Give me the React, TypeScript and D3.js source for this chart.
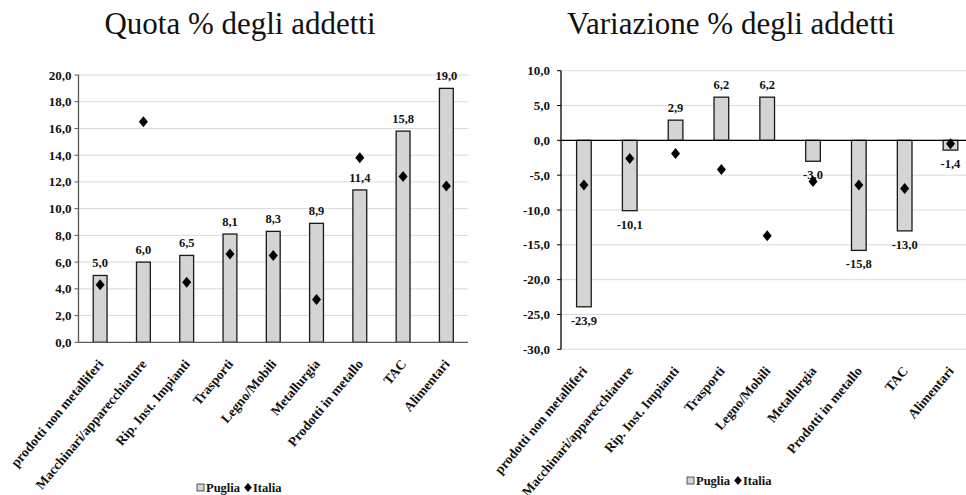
import * as d3 from 'd3'

const categories = [
  'prodotti non metalliferi',
  'Macchinari/apparecchiature',
  'Rip. Inst. Impianti',
  'Trasporti',
  'Legno/Mobili',
  'Metallurgia',
  'Prodotti in metallo',
  'TAC',
  'Alimentari',
]

const quotaPuglia = [5.0, 6.0, 6.5, 8.1, 8.3, 8.9, 11.4, 15.8, 19.0]
const quotaItalia = [4.3, 16.5, 4.5, 6.6, 6.5, 3.2, 13.8, 12.4, 11.7]
const quotaTicks = [0, 2, 4, 6, 8, 10, 12, 14, 16, 18, 20]

const varPuglia = [-23.9, -10.1, 2.9, 6.2, 6.2, -3.0, -15.8, -13.0, -1.4]
const varItalia = [-6.4, -2.6, -1.9, -4.2, -13.7, -5.9, -6.4, -6.9, -0.5]
const varTicks = [-30, -25, -20, -15, -10, -5, 0, 5, 10]

const W = 966
const H = 495
const FONT = 'Liberation Serif'

const it = d3.formatLocale({
  decimal: ',',
  thousands: '.',
  grouping: [3],
  currency: ['', ' €'],
  minus: '-',
})
const fmt = it.format('.1f')

interface PanelProps {
  title: string
  titleX: number
  puglia: number[]
  italia: number[]
  ticks: number[]
  x0: number
  x1: number
  yTop: number
  yBot: number
  labelGap: number
  axisColor: string
  legendX: number
  legendY: number
}

function Panel(p: PanelProps) {
  const domain = d3.extent(p.ticks) as [number, number]
  const y = d3.scaleLinear().domain(domain).range([p.yBot, p.yTop])
  const x = d3.scaleBand<string>().domain(categories).range([p.x0, p.x1]).paddingInner(0.68).paddingOuter(0.34)
  const bw = x.bandwidth()
  const y0 = y(0)
  const axisBottom = y(domain[0])
  const diamond = 'M0,-5.5L4.5,0L0,5.5L-4.5,0Z'

  return (
    <g>
      <text x={p.titleX} y={34} textAnchor="middle" fontFamily={FONT} fontSize={31} fill="#111">
        {p.title}
      </text>

      {/* gridlines + y labels */}
      {p.ticks.map((t) => (
        <g key={t}>
          {t !== 0 && (
            <line x1={p.x0} x2={p.x1} y1={y(t)} y2={y(t)} stroke="#d9d9d9" strokeWidth={1} />
          )}
          <line x1={p.x0 - 4} x2={p.x0} y1={y(t)} y2={y(t)} stroke={p.axisColor} strokeWidth={1} />
          <text
            x={p.x0 - p.labelGap}
            y={y(t) + 4.5}
            textAnchor="end"
            fontFamily={FONT}
            fontWeight="bold"
            fontSize={13}
            fill="#111"
          >
            {fmt(t)}
          </text>
        </g>
      ))}

      {/* bars */}
      {p.puglia.map((v, i) => {
        const c = categories[i]
        const top = Math.min(y(v), y0)
        const h = Math.abs(y(v) - y0)
        return (
          <rect
            key={c}
            x={x(c)}
            y={top}
            width={bw}
            height={h}
            fill="#d4d4d4"
            stroke="#1a1a1a"
            strokeWidth={1.3}
          />
        )
      })}

      {/* zero line + y axis */}
      <line x1={p.x0} x2={p.x1} y1={y0} y2={y0} stroke={p.axisColor} strokeWidth={1.3} />
      <line x1={p.x0} x2={p.x0} y1={p.yTop} y2={axisBottom} stroke={p.axisColor} strokeWidth={1.3} />

      {/* value labels */}
      {p.puglia.map((v, i) => {
        const c = categories[i]
        const cx = (x(c) ?? 0) + bw / 2
        const ly = v >= 0 ? y(v) - 8 : y(v) + 18
        return (
          <text
            key={c}
            x={cx}
            y={ly}
            textAnchor="middle"
            fontFamily={FONT}
            fontWeight="bold"
            fontSize={12.5}
            fill="#111"
          >
            {fmt(v)}
          </text>
        )
      })}

      {/* Italia diamonds */}
      {p.italia.map((v, i) => {
        const c = categories[i]
        const cx = (x(c) ?? 0) + bw / 2
        return <path key={c} d={diamond} transform={`translate(${cx},${y(v)})`} fill="#000" />
      })}

      {/* category labels */}
      {categories.map((c) => {
        const cx = (x(c) ?? 0) + bw / 2
        return (
          <text
            key={c}
            transform={`translate(${cx + 4},${axisBottom + 22}) rotate(-50)`}
            textAnchor="end"
            fontFamily={FONT}
            fontWeight="bold"
            fontSize={13.5}
            fill="#111"
          >
            {c}
          </text>
        )
      })}

      {/* legend */}
      <g transform={`translate(${p.legendX},${p.legendY})`} fontFamily={FONT} fontWeight="bold" fontSize={12.5} fill="#111">
        <rect x={0} y={-8} width={7} height={7} fill="#d4d4d4" stroke="#333" strokeWidth={0.8} />
        <text x={9} y={0}>Puglia</text>
        <path d="M0,-4.5L3.8,0L0,4.5L-3.8,0Z" transform="translate(51,-4.5)" fill="#000" />
        <text x={56} y={0}>Italia</text>
      </g>
    </g>
  )
}

export default function App() {
  return (
    <svg
      width={W}
      height={H}
      style={{ position: 'absolute', left: 0, top: 0, background: '#fff' }}
    >
      <rect width={W} height={H} fill="#fff" />
      <Panel
        title="Quota % degli addetti"
        titleX={240}
        puglia={quotaPuglia}
        italia={quotaItalia}
        ticks={quotaTicks}
        x0={78.5}
        x1={468}
        yTop={75}
        yBot={342.3}
        labelGap={7}
        axisColor="#595959"
        legendX={197}
        legendY={492}
      />
      <Panel
        title="Variazione % degli addetti"
        titleX={731}
        puglia={varPuglia}
        italia={varItalia}
        ticks={varTicks}
        x0={561}
        x1={973.4}
        yTop={70.7}
        yBot={349.3}
        labelGap={11}
        axisColor="#000"
        legendX={687}
        legendY={485}
      />
    </svg>
  )
}
